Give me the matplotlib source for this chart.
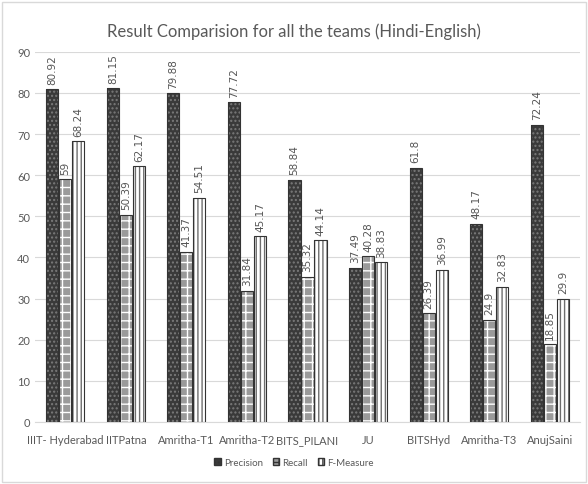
import numpy as np
import matplotlib
matplotlib.use("Agg")
import matplotlib.pyplot as plt
from matplotlib.patches import Rectangle, Patch

# data
teams = ["IIIT- Hyderabad", "IITPatna", "Amritha-T1", "Amritha-T2", "BITS_PILANI",
         "JU", "BITSHyd", "Amritha-T3", "AnujSaini"]
precision = [80.92, 81.15, 79.88, 77.72, 58.84, 37.49, 61.8, 48.17, 72.24]
recall = [59, 50.39, 41.37, 31.84, 35.32, 40.28, 26.39, 24.9, 18.85]
fmeasure = [68.24, 62.17, 54.51, 45.17, 44.14, 38.83, 36.99, 32.83, 29.9]
labels = ["Precision", "Recall", "F-Measure"]
yticks = list(range(0, 91, 10))

plt.rcParams['font.family'] = ['Lato', 'DejaVu Sans']
plt.rcParams['hatch.linewidth'] = 1.0

fig = plt.figure(figsize=(5.88, 4.85), dpi=100)
ax = fig.add_axes([0.0595, 0.128, 0.927, 0.763])

x = np.arange(len(teams))
w = 0.2
off = 0.215
styles = [
    dict(face="#3a3a3a", hatch="....", hcol="#7a7a7a"),
    dict(face="#9a9a9a", hatch="++", hcol="#ffffff"),
    dict(face="#ffffff", hatch="||||", hcol="#6e6e6e"),
]
series = [precision, recall, fmeasure]

for i, (vals, st) in enumerate(zip(series, styles)):
    pos = x + (i - 1) * off
    ax.bar(pos, vals, w, color=st["face"], hatch=st["hatch"],
           edgecolor=st["hcol"], linewidth=0, zorder=2)
    ax.bar(pos, vals, w, fill=False, edgecolor="#333333", linewidth=0.8, zorder=3)
    for p, v in zip(pos, vals):
        ax.annotate(f"{v:g}", (p, v), xytext=(0, 4), textcoords="offset points",
                    rotation=90, ha="center", va="bottom", fontsize=7.5,
                    color="#555555", family="DejaVu Sans")

ax.set_xlim(-0.5, len(teams) - 0.5)
ax.set_ylim(0, 90)
ax.set_yticks(yticks)
ax.set_xticks(x)
ax.set_xticklabels(teams)
ax.tick_params(axis="both", length=0, labelsize=8, colors="#595959")
ax.tick_params(axis="x", pad=9)
ax.yaxis.grid(True, color="#d9d9d9", linewidth=0.8)
ax.set_axisbelow(True)
for s in ["left", "right", "top"]:
    ax.spines[s].set_visible(False)
ax.spines["bottom"].set_color("#d9d9d9")

fig.text(0.5, 0.935, "Result Comparision for all the teams (Hindi-English)",
         ha="center", va="center", fontsize=12, color="#595959")

handles = [Patch(facecolor=st["face"], hatch=st["hatch"], edgecolor="#333333")
           for st in styles]
fig.legend(handles, labels, loc="center", bbox_to_anchor=(0.5, 0.045), ncol=3,
           frameon=False, fontsize=7, handlelength=0.7, handleheight=0.7,
           handletextpad=0.3, columnspacing=1.0, labelcolor="#595959")

fig.patches.append(Rectangle((0.004, 0.004), 0.992, 0.99, transform=fig.transFigure,
                             fill=False, edgecolor="#d9d9d9", linewidth=1))

fig.savefig("out.png", dpi=100)
